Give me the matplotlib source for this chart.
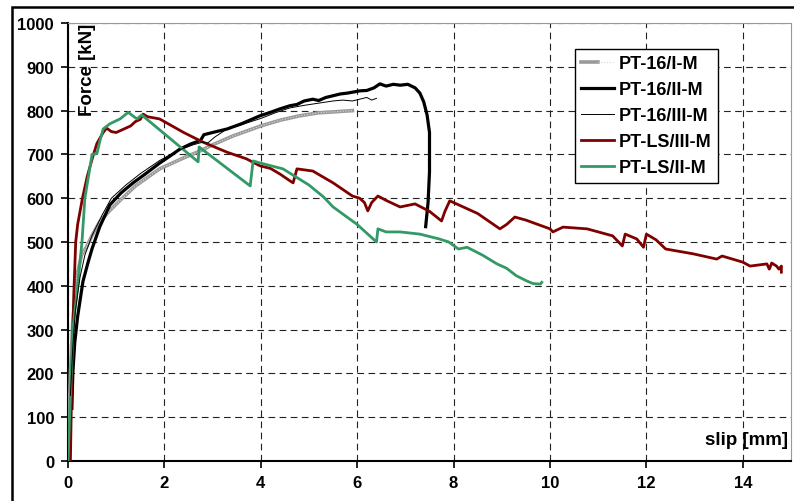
import numpy as np
import matplotlib.pyplot as plt
from matplotlib.patches import Rectangle
from matplotlib.legend_handler import HandlerTuple

plt.rcParams['font.family'] = ['Liberation Sans', 'DejaVu Sans']
plt.rcParams['font.weight'] = 'bold'

# slip [mm] / force [kN]
x_16_I = [0.02, 0.05, 0.1, 0.18, 0.28, 0.39, 0.5, 0.65, 0.85, 1.08, 1.4, 1.9, 2.4, 2.74, 3.0, 3.42, 4.0, 4.4, 4.8, 5.2, 5.5, 5.9]
y_16_I = [80, 200, 320, 420, 470, 490, 515, 545, 570, 595, 628, 667, 692, 708, 722, 742, 765, 778, 788, 795, 797, 800]

x_16_II = [0.08, 0.1, 0.14, 0.2, 0.31, 0.42, 0.5, 0.66, 0.87, 1.1, 1.35, 1.6, 1.9, 2.1, 2.32, 2.55, 2.75, 2.82, 3.0,
           3.3, 3.6, 3.98, 4.2, 4.4, 4.6, 4.75, 4.9, 5.08, 5.2, 5.35, 5.5, 5.65, 5.8, 6.05, 6.2, 6.35, 6.47, 6.6,
           6.75, 6.89, 7.05, 7.2, 7.3, 7.38, 7.45, 7.5, 7.5, 7.47, 7.42]
y_16_II = [120, 200, 270, 330, 410, 455, 485, 535, 585, 612, 635, 655, 680, 695, 712, 724, 732, 745, 750,
           758, 770, 788, 796, 804, 811, 814, 822, 826, 823, 830, 834, 838, 840, 845, 846, 852, 861, 856,
           860, 858, 860, 852, 840, 820, 790, 750, 660, 590, 535]

x_16_III = [0.05, 0.1, 0.15, 0.25, 0.35, 0.5, 0.7, 0.9, 1.2, 1.5, 1.9, 2.3, 2.6, 2.8, 2.9, 3.05, 3.3, 3.5, 3.8,
            4.0, 4.3, 4.6, 4.9, 5.2, 5.5, 5.7, 5.9, 6.05, 6.2, 6.3, 6.4]
y_16_III = [150, 260, 340, 420, 470, 515, 560, 600, 630, 656, 686, 710, 722, 728, 726, 740, 758, 764, 775,
            782, 795, 806, 812, 817, 822, 824, 822, 826, 830, 824, 828]

x_LS_III = [0.05, 0.08, 0.12, 0.16, 0.2, 0.3, 0.4, 0.52, 0.6, 0.73, 0.8, 0.9, 1.0, 1.1, 1.2, 1.3, 1.4, 1.5, 1.56,
            1.65, 1.9, 2.4, 2.8, 3.3, 3.7, 3.98, 4.2, 4.4, 4.6, 4.67, 4.75, 5.08, 5.5, 5.9, 6.05, 6.15, 6.22,
            6.3, 6.43, 6.6, 6.89, 7.2, 7.5, 7.75, 7.82, 7.92, 8.2, 8.5, 8.96, 9.1, 9.27, 9.5, 10.0, 10.06, 10.27,
            10.77, 11.3, 11.5, 11.56, 11.8, 11.94, 12.0, 12.2, 12.4, 12.97, 13.46, 13.57, 14.0, 14.15, 14.5,
            14.55, 14.6, 14.7, 14.75, 14.8, 14.8]
y_LS_III = [0, 200, 380, 500, 540, 600, 650, 697, 725, 750, 760, 752, 750, 755, 760, 765, 775, 780, 792,
            786, 781, 750, 728, 705, 690, 674, 668, 655, 640, 635, 667, 662, 635, 605, 600, 590, 571,
            590, 605, 595, 580, 587, 570, 548, 570, 594, 580, 565, 530, 540, 557, 550, 530, 523, 534,
            530, 514, 491, 518, 507, 488, 518, 505, 484, 473, 461, 468, 454, 445, 450,
            438, 452, 445, 438, 445, 431]

x_LS_II = [0.0, 0.05, 0.1, 0.2, 0.29, 0.35, 0.5, 0.6, 0.66, 0.73, 0.87, 1.08, 1.25, 1.43, 1.53, 2.7, 2.72, 3.78,
           3.84, 4.0, 4.46, 5.0, 5.3, 5.5, 6.0, 6.4, 6.43, 6.6, 6.89, 7.3, 7.7, 7.9, 8.1, 8.28, 8.6, 8.9, 9.1,
           9.3, 9.52, 9.65, 9.8, 9.83]
y_LS_II = [0, 150, 300, 400, 500, 600, 700, 702, 730, 758, 770, 781, 796, 781, 790, 683, 717, 628,
           685, 680, 667, 630, 603, 580, 540, 500, 530, 523, 523, 518, 507, 500, 484, 488, 470, 450, 440,
           423, 411, 405, 404, 408]

x_ticks = [0, 2, 4, 6, 8, 10, 12, 14]
y_ticks = [0, 100, 200, 300, 400, 500, 600, 700, 800, 900, 1000]

fig = plt.figure(figsize=(7.94, 5.02), dpi=100)
ax = fig.add_axes([68/794, 1-462/502, 723/794, 438/502])

# curves
g1, = ax.plot(x_16_I, y_16_I, color='#9a9a9a', lw=2.6, zorder=3)
g2, = ax.plot(x_16_I, y_16_I, color='#d8d8d8', lw=0.8, ls=(0, (1, 1.5)), zorder=3)
l2, = ax.plot(x_16_II, y_16_II, color='black', lw=2.3, zorder=4)
l3, = ax.plot(x_16_III, y_16_III, color='black', lw=0.7, zorder=5)
l4, = ax.plot(x_LS_III, y_LS_III, color='#800000', lw=2.0, zorder=4)
l5, = ax.plot(x_LS_II, y_LS_II, color='#339966', lw=2.0, zorder=4)

ax.set_xlim(0, 15)
ax.set_ylim(0, 1000)
ax.set_xticks(x_ticks)
ax.set_yticks(y_ticks)
ax.tick_params(labelsize=12, length=5, width=1.2, direction='out', pad=5)
for lab in ax.get_xticklabels() + ax.get_yticklabels():
	lab.set_fontweight('bold')

ax.grid(True, color='#222222', ls=(0, (6, 4)), lw=0.8)
ax.set_axisbelow(True)
ax.spines['left'].set_linewidth(1.5)
ax.spines['bottom'].set_linewidth(1.5)
ax.spines['top'].set_color('#999999')
ax.spines['right'].set_color('#999999')

# axis titles sit inside the plot
ax.text(0.027, 1.0, 'Force [kN]', transform=ax.transAxes, rotation=90, ha='center', va='top',
	fontsize=13.5, fontweight='bold')
ax.text(0.996, 0.05, 'slip [mm]', transform=ax.transAxes, ha='right', va='center',
	fontsize=13.5, fontweight='bold')

leg = ax.legend([(g1, g2), l2, l3, l4, l5],
	['PT-16/I-M', 'PT-16/II-M', 'PT-16/III-M', 'PT-LS/III-M', 'PT-LS/II-M'],
	handler_map={tuple: HandlerTuple(ndivide=None, pad=0)},
	loc='upper left', bbox_to_anchor=((575-68)/723, (462-50)/438), borderaxespad=0,
	prop={'weight': 'bold', 'size': 13}, handlelength=1.8, handletextpad=0.3,
	labelspacing=0.5, borderpad=0.35, fancybox=False, edgecolor='black', framealpha=1)
leg.get_frame().set_linewidth(1.0)

# outer frame around the whole figure
fig.add_artist(Rectangle((12/794, -0.1), 1.2, 1.1 - 8/502, transform=fig.transFigure,
	fill=False, lw=1.8, edgecolor='black'))

plt.savefig('out.png', dpi=100)
